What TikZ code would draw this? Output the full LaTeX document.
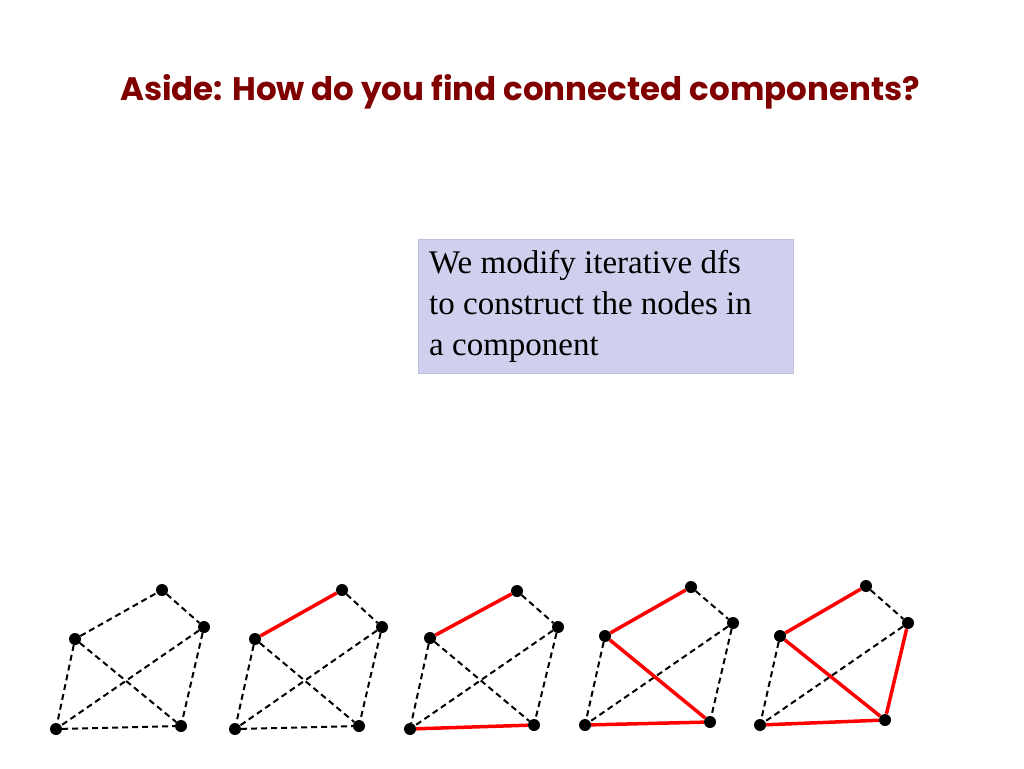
\documentclass[tikz,border=0pt]{standalone}
\usepackage{fontspec}
\setmainfont{Liberation Serif}
\newfontfamily\titlefont{Poppins}
\definecolor{titlered}{RGB}{128,0,0}
\definecolor{boxblue}{RGB}{208,208,238}
\tikzset{
  vert/.style={circle,fill=black,inner sep=0pt,minimum size=12pt},
  plain/.style={dash pattern=on 6pt off 4pt,line width=2pt},
  tree/.style={red,line width=3.5pt}
}
\begin{document}
\begin{tikzpicture}[x=1pt,y=-1pt]
\useasboundingbox (0,0) rectangle (1024,768);
\node[text=titlered,font=\titlefont\bfseries\fontsize{32.5}{38}\selectfont] (title) at (520,92) {Aside: How do you find connected components?};
\node[fill=boxblue,draw=boxblue!80!gray,minimum width=375pt,minimum height=134pt,anchor=north west] (box) at (418,239) {};
\node[anchor=north west,align=left,inner sep=0pt,font=\fontsize{33}{41}\selectfont] (boxtext) at (429,250) {We modify iterative dfs\\to construct the nodes in\\a component};

% graph 1
\node[vert] (at) at (162,590) {};
\node[vert] (ar) at (204,627) {};
\node[vert] (al) at (75,639) {};
\node[vert] (abl) at (56,729) {};
\node[vert] (abr) at (181,726) {};
\draw[plain] (al) -- (at) (at) -- (ar) (al) -- (abl) (al) -- (abr) (ar) -- (abl) (ar) -- (abr) (abl) -- (abr);

% graph 2
\node[vert] (bt) at (342,590) {};
\node[vert] (br) at (382,627) {};
\node[vert] (bl) at (255,639) {};
\node[vert] (bbl) at (235,729) {};
\node[vert] (bbr) at (359,726) {};
\draw[plain] (bt) -- (br) (bl) -- (bbl) (bl) -- (bbr) (br) -- (bbl) (br) -- (bbr) (bbl) -- (bbr);
\draw[tree] (bl) -- (bt);

% graph 3
\node[vert] (ct) at (517,591) {};
\node[vert] (cr) at (558,627) {};
\node[vert] (cl) at (430,638) {};
\node[vert] (cbl) at (410,729) {};
\node[vert] (cbr) at (534,725) {};
\draw[plain] (ct) -- (cr) (cl) -- (cbl) (cl) -- (cbr) (cr) -- (cbl) (cr) -- (cbr);
\draw[tree] (cl) -- (ct) (cbl) -- (cbr);

% graph 4
\node[vert] (dt) at (691,587) {};
\node[vert] (dr) at (733,623) {};
\node[vert] (dl) at (605,636) {};
\node[vert] (dbl) at (585,725) {};
\node[vert] (dbr) at (710,722) {};
\draw[plain] (dt) -- (dr) (dl) -- (dbl) (dr) -- (dbl) (dr) -- (dbr);
\draw[tree] (dl) -- (dt) (dl) -- (dbr) (dbl) -- (dbr);

% graph 5
\node[vert] (et) at (866,586) {};
\node[vert] (er) at (908,623) {};
\node[vert] (el) at (780,636) {};
\node[vert] (ebl) at (760,725) {};
\node[vert] (ebr) at (885,720) {};
\draw[plain] (et) -- (er) (el) -- (ebl) (er) -- (ebl);
\draw[tree] (el) -- (et) (el) -- (ebr) (ebl) -- (ebr) (er) -- (ebr);
\end{tikzpicture}
\end{document}
